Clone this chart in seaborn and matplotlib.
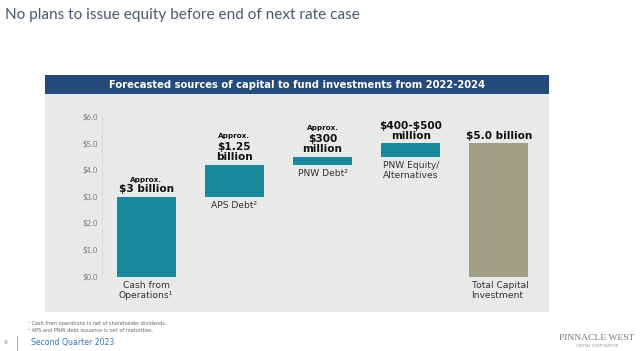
import matplotlib
matplotlib.use("Agg")
import matplotlib.pyplot as plt
import seaborn as sns
import pandas as pd
from matplotlib.patches import Rectangle

# chart values ($ billions)
categories = ["Cash from\nOperations\u00b9", "APS Debt\u00b2", "PNW Debt\u00b2",
              "PNW Equity/\nAlternatives", "Total Capital\nInvestment"]
amounts = [3.0, 1.2, 0.3, 0.5, 5.0]
bases = [0.0, 3.0, 4.2, 4.5, 0.0]
small_labels = ["Approx.", "Approx.", "Approx.", "", ""]
big_labels = [r"\$3 billion", "\\$1.25\nbillion", "\\$300\nmillion",
              "\\$400-\\$500\nmillion", r"\$5.0 billion"]
yticks = [0, 1, 2, 3, 4, 5, 6]
ytick_labels = [r"\$0.0", r"\$1.0", r"\$2.0", r"\$3.0", r"\$4.0", r"\$5.0", r"\$6.0"]

teal = "#16899a"
khaki = "#a09f86"

df = pd.DataFrame({"source": categories, "amount": amounts, "base": bases})

sns.set_style("white")
W, H = 640, 351
fig = plt.figure(figsize=(W / 100, H / 100), dpi=100)
fig.patch.set_facecolor("white")

def px(x, y):
    return x / W, 1 - y / H

# gray panel and blue header
fig.add_artist(Rectangle(px(45, 312), 504 / W, 218 / H, transform=fig.transFigure,
                         facecolor="#e8eaea", edgecolor="none", zorder=0))
fig.add_artist(Rectangle(px(45, 94), 504 / W, 19 / H, transform=fig.transFigure,
                         facecolor="#244b7b", edgecolor="none", zorder=0))
fig.text(*px(297, 85), "Forecasted sources of capital to fund investments from 2022-2024",
         color="white", fontsize=7.2, fontweight="bold", ha="center", va="center",
         family="DejaVu Sans")

fig.text(*px(5, 15), "No plans to issue equity before end of next rate case",
         color="#4a5a6e", fontsize=11.1, ha="left", va="center",
         family=["Lato", "DejaVu Sans"])

ax = fig.add_axes([102 / W, 1 - 276.5 / H, 441 / W, 159.8 / H])
ax.set_facecolor("none")
sns.barplot(data=df, x="source", y="amount", bottom=df["base"], color=teal,
            width=0.67, saturation=1, ax=ax)
ax.patches[-1].set_facecolor(khaki)
for p in ax.patches:
    p.set_edgecolor("none")

ax.set_xlim(-0.5, 4.5)
ax.set_ylim(0, 6)
ax.set_yticks(yticks)
ax.set_yticklabels(ytick_labels, fontsize=5.6, color="#7a7a7a",
                   family=["Lato", "DejaVu Sans"])
ax.tick_params(axis="y", length=0, pad=3)
ax.set_xticks([])
ax.set_xlabel("")
ax.set_ylabel("")
for s in ["top", "right", "bottom"]:
    ax.spines[s].set_visible(False)
ax.spines["left"].set_color("#d6d8d8")
ax.spines["left"].set_linewidth(0.6)

for i, (cat, amt, base) in enumerate(zip(categories, amounts, bases)):
    top = base + amt
    big = big_labels[i]
    nlines = big.count("\n") + 1
    ax.annotate(big, (i, top), xytext=(0, 2), textcoords="offset points",
                ha="center", va="bottom", fontsize=7.6, fontweight="bold",
                color="#111111", linespacing=1.0, annotation_clip=False)
    if small_labels[i]:
        ax.annotate(small_labels[i], (i, top), xytext=(0, 8.8 * nlines + 0.8),
                    textcoords="offset points", ha="center", va="bottom",
                    fontsize=5.2, fontweight="bold", color="#111111",
                    annotation_clip=False)
    if i == 4:
        ax.annotate(cat, (i - 0.31, base), xytext=(0, -3), textcoords="offset points",
                    ha="left", va="top", fontsize=6.6, color="#333333",
                    linespacing=1.15, annotation_clip=False)
    else:
        ax.annotate(cat, (i, base), xytext=(0, -3), textcoords="offset points",
                    ha="center", va="top", fontsize=6.6, color="#333333",
                    linespacing=1.15, annotation_clip=False)

# footer
fig.text(*px(28, 324), "\u00b9 Cash from operations is net of shareholder dividends.",
         fontsize=3.6, color="#666666", va="center")
fig.text(*px(28, 331), "\u00b2 APS and PNW debt issuance is net of maturities.",
         fontsize=3.6, color="#666666", va="center")
fig.text(*px(4, 343), "9", fontsize=4.5, color="#8a8a8a", va="center")
fig.add_artist(plt.Line2D([16.5 / W, 16.5 / W], [1 - 336 / H, 1 - 350 / H],
                          transform=fig.transFigure, color="#9a9a9a", lw=0.6))
fig.text(*px(31, 343), "Second Quarter 2023", fontsize=5.6, color="#3a76b0", va="center")
fig.text(*px(597, 338), "PINNACLE WEST", fontsize=6.8, color="#777777", ha="center",
         va="center", family="Liberation Serif")
fig.text(*px(597, 346), "CAPITAL CORPORATION", fontsize=2.6, color="#999999",
         ha="center", va="center")

fig.savefig("out.png", dpi=100)
